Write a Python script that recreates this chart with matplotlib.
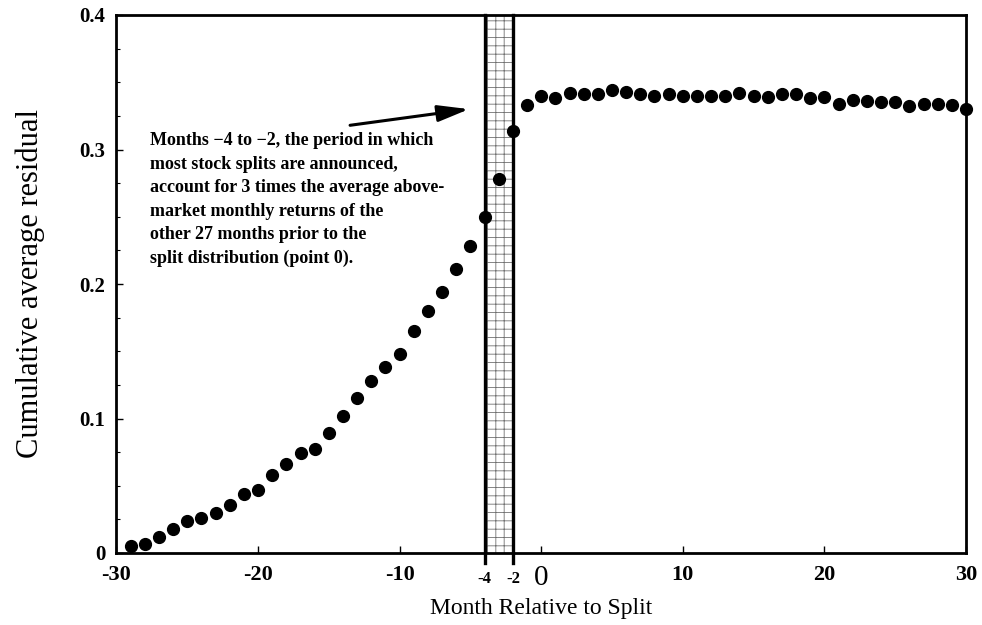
"""
Cumulative average residual around stock split month.
"""

import matplotlib
matplotlib.use("Agg")
import matplotlib.pyplot as plt

# -----------------------------------------------------------------------------
# Data
# -----------------------------------------------------------------------------
months = list(range(-29, 31))
car = [
    0.005, 0.007, 0.012, 0.018, 0.024, 0.026, 0.030, 0.036, 0.044, 0.047,   # -29..-20
    0.058, 0.066, 0.074, 0.077, 0.089, 0.102, 0.115, 0.128, 0.138, 0.148,   # -19..-10
    0.165, 0.180, 0.194, 0.211, 0.228, 0.250, 0.278, 0.314, 0.333,          # -9..-1
    0.340, 0.338, 0.342, 0.341, 0.341, 0.344, 0.343, 0.341, 0.340, 0.341,   # 0..9
    0.340, 0.340, 0.340, 0.340, 0.342, 0.340, 0.339, 0.341, 0.341, 0.338,   # 10..19
    0.339, 0.334, 0.337, 0.336, 0.335, 0.335, 0.332, 0.334, 0.334, 0.333,   # 20..29
    0.330,                                                                   # 30
]

window = (-4, -2)
x_ticks = [-30, -20, -10, -4, -2, 0, 10, 20, 30]
x_tick_labels = ["-30", "-20", "-10", "-4", "-2", "0", "10", "20", "30"]
y_ticks = [0, 0.1, 0.2, 0.3, 0.4]
y_tick_labels = ["0", "0.1", "0.2", "0.3", "0.4"]

note = ("Months \u22124 to \u22122, the period in which\n"
        "most stock splits are announced,\n"
        "account for 3 times the average above-\n"
        "market monthly returns of the\n"
        "other 27 months prior to the\n"
        "split distribution (point 0).")

# -----------------------------------------------------------------------------
# Plot
# -----------------------------------------------------------------------------
plt.rcParams["font.family"] = ["Liberation Serif", "DejaVu Serif"]
plt.rcParams["hatch.linewidth"] = 0.6
plt.rcParams["hatch.color"] = "#707070"

fig = plt.figure(figsize=(9.82, 6.25), dpi=100)
ax = fig.add_axes([0.1186, 0.1152, 0.8651, 0.8608])

# shaded announcement window
ax.axvspan(window[0], window[1], facecolor="white", edgecolor="#707070",
           hatch="++", linewidth=0, zorder=1)
for xv in window:
    ax.plot([xv, xv], [-0.0075, 0.4], color="black", linewidth=2.4,
            clip_on=False, zorder=3)

ax.plot(months, car, "o", color="black", markersize=8.5, zorder=4,
        clip_on=False)

ax.set_xlim(-30, 30)
ax.set_ylim(0, 0.4)

ax.set_xticks(x_ticks)
ax.set_xticklabels(x_tick_labels)
ax.set_yticks(y_ticks)
ax.set_yticklabels(y_tick_labels)
ax.set_yticks([0.025, 0.05, 0.075, 0.125, 0.15, 0.175, 0.225, 0.25, 0.275,
               0.325, 0.35, 0.375], minor=True)

ax.tick_params(axis="x", which="major", direction="in", length=5,
               width=1, pad=8.5)
ax.tick_params(axis="y", which="major", direction="in", length=5,
               width=1, pad=8)
ax.tick_params(axis="y", which="minor", direction="in", length=3, width=0.8)
for lab in ax.get_yticklabels():
    lab.set_fontsize(15)
    lab.set_fontweight("bold")
for lab, txt in zip(ax.get_xticklabels(), x_tick_labels):
    if txt == "0":
        lab.set_fontsize(21)
    elif txt in ("-4", "-2"):
        lab.set_fontsize(12)
        lab.set_fontweight("bold")
        lab.set_y(-0.012)
    else:
        lab.set_fontsize(16)
        lab.set_fontweight("bold")

for sp in ax.spines.values():
    sp.set_linewidth(2)

ax.set_xlabel("Month Relative to Split", fontsize=17, labelpad=5)
ax.set_ylabel("Cumulative average residual", fontsize=22, labelpad=25)

ax.text(-27.6, 0.313, note, fontsize=13, fontweight="bold",
        va="top", ha="left", linespacing=1.5, zorder=5)
ax.annotate("", xy=(-5.1, 0.330), xytext=(-13.5, 0.318),
            arrowprops=dict(arrowstyle="-|>,head_length=1.9,head_width=0.5",
                            color="black", linewidth=2.2,
                            shrinkA=0, shrinkB=0))

fig.savefig("out.png", dpi=100)
